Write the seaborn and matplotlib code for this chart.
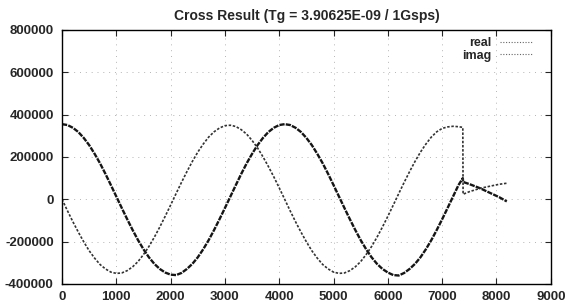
import matplotlib
matplotlib.use("Agg")
import matplotlib.pyplot as plt
import seaborn as sns
import pandas as pd

# ---- data ----
x_main = [0, 100, 200, 300, 400, 500, 600, 700, 800, 900,
          1000, 1100, 1200, 1300, 1400, 1500, 1600, 1700, 1800, 1900,
          2000, 2100, 2200, 2300, 2400, 2500, 2600, 2700, 2800, 2900,
          3000, 3100, 3200, 3300, 3400, 3500, 3600, 3700, 3800, 3900,
          4000, 4100, 4200, 4300, 4400, 4500, 4600, 4700, 4800, 4900,
          5000, 5100, 5200, 5300, 5400, 5500, 5600, 5700, 5800, 5900,
          6000, 6100, 6200, 6300, 6400, 6500, 6600, 6700, 6800, 6900,
          7000, 7100, 7200, 7300]

real_main = [355000, 351000, 338000, 318000, 290000, 256000, 215000, 170000, 120000, 67000,
             13000, -41000, -94000, -145000, -193000, -236000, -274000, -305000, -329000, -346000,
             -356000, -358000, -348000, -329000, -305000, -274000, -236000, -193000, -145000, -94000,
             -41000, 13000, 67000, 120000, 170000, 215000, 256000, 290000, 318000, 338000,
             351000, 355000, 351000, 338000, 318000, 290000, 256000, 215000, 170000, 120000,
             67000, 13000, -41000, -94000, -145000, -193000, -236000, -274000, -305000, -329000,
             -346000, -358000, -360000, -348000, -329000, -305000, -274000, -236000, -193000, -145000,
             -94000, -41000, 13000, 67000]

imag_main = [0, -54000, -106000, -155000, -201000, -243000, -278000, -308000, -329000, -344000,
             -350000, -348000, -337000, -319000, -294000, -261000, -223000, -179000, -131000, -80000,
             -27000, 27000, 80000, 131000, 179000, 223000, 261000, 294000, 319000, 337000,
             348000, 350000, 344000, 329000, 308000, 278000, 243000, 201000, 155000, 106000,
             54000, 0, -54000, -106000, -155000, -201000, -243000, -278000, -308000, -329000,
             -344000, -350000, -348000, -337000, -319000, -294000, -261000, -223000, -179000, -131000,
             -80000, -27000, 27000, 80000, 131000, 179000, 223000, 261000, 294000, 319000,
             335000, 342000, 345000, 343000]

x_tail_real = [7380, 7385, 7500, 7700, 7900, 8050, 8190]
real_tail = [100000, 82000, 72000, 52000, 28000, 10000, -10000]

x_tail_imag = [7380, 7385, 7500, 7700, 7900, 8050, 8190]
imag_tail = [340000, 24000, 36000, 52000, 63000, 71000, 76000]

title = "Cross Result (Tg = 3.90625E-09 / 1Gsps)"
x_ticks = [0, 1000, 2000, 3000, 4000, 5000, 6000, 7000, 8000, 9000]
y_ticks = [-400000, -200000, 0, 200000, 400000, 600000, 800000]

# ---- build frames ----
df_real = pd.DataFrame({"x": x_main + x_tail_real, "y": real_main + real_tail})
df_imag = pd.DataFrame({"x": x_main + x_tail_imag, "y": imag_main + imag_tail})

sns.set_style("ticks")
plt.rcParams["font.family"] = ["Liberation Sans", "DejaVu Sans"]
plt.rcParams["font.weight"] = "bold"

fig = plt.figure(figsize=(5.69, 3.06), dpi=100)
ax = fig.add_subplot(111)
fig.subplots_adjust(left=0.109, right=0.968, top=0.902, bottom=0.072)

sns.lineplot(data=df_real, x="x", y="y", ax=ax, estimator=None, sort=False,
             color="#151515", linewidth=1.7, dashes=False, label="real")
sns.lineplot(data=df_imag, x="x", y="y", ax=ax, estimator=None, sort=False,
             color="#333333", linewidth=1.2, dashes=False, label="imag")
ax.lines[0].set_dashes((2.2, 0.5))
ax.lines[1].set_dashes((1.5, 1.0))

ax.set_xlim(0, 9000)
ax.set_ylim(-400000, 800000)
ax.set_xticks(x_ticks)
ax.set_yticks(y_ticks)
ax.set_xticklabels([str(v) for v in x_ticks], fontsize=9.5, fontweight="bold")
ax.set_yticklabels([str(v) for v in y_ticks], fontsize=9.5, fontweight="bold")
ax.set_xlabel("")
ax.set_ylabel("")
ax.tick_params(direction="in", length=4, width=0.8, top=True, right=True)
ax.tick_params(axis="y", pad=6)
ax.tick_params(axis="x", pad=5)
ax.grid(True, color="#b5b5b5", linestyle=(0, (1, 5)), linewidth=0.7)
for s in ax.spines.values():
    s.set_visible(True)
    s.set_color("black")
    s.set_linewidth(1.0)

ax.set_title(title, fontsize=10, fontweight="bold", pad=7)

leg = ax.legend(loc="upper right", frameon=False, markerfirst=False,
                bbox_to_anchor=((533 - 62) / 489, 1 - 7 / 254),
                handlelength=2.6, labelspacing=0.05,
                borderaxespad=0.0, borderpad=0.0, handletextpad=0.7,
                prop={"weight": "bold", "size": 9})
for h in leg.get_lines():
    h.set_linewidth(0.8)
    h.set_linestyle((0, (1, 1.5)))
    h.set_color("#666666")
for t in leg.get_texts():
    t.set_ha("right")

fig.savefig("out.png", dpi=100)
